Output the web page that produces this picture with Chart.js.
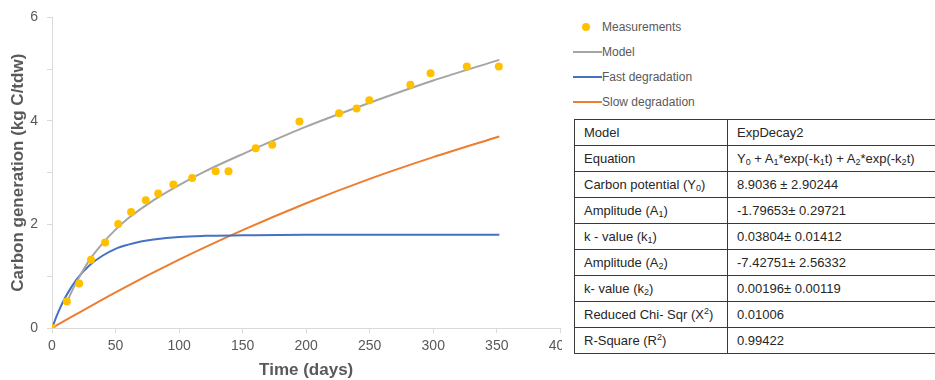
<!DOCTYPE html>
<html>
<head>
<meta charset="utf-8">
<script src="https://cdn.jsdelivr.net/npm/chart.js@4/dist/chart.umd.min.js"></script>
<style>
html,body{margin:0;padding:0;width:935px;height:380px;overflow:hidden;background:#fff;font-family:"Liberation Sans",Arial,sans-serif;}
#wrap{position:absolute;left:0;top:0;width:562px;height:380px;overflow:hidden;}
#c{position:absolute;left:0;top:0;}
#legend{position:absolute;left:0;top:0;}
.li{position:absolute;height:16px;line-height:16px;white-space:nowrap;font-size:12px;color:#595959;}
.sw{position:absolute;}
table{position:absolute;left:574px;top:119px;border-collapse:collapse;width:380px;font-size:13px;color:#262626;table-layout:fixed;}
td{border:1.5px solid #3a3a3a;padding:0 0 0 9px;height:25px;white-space:nowrap;}
td.k{width:143px;}
sub,sup{font-size:9px;line-height:0;}
sub{vertical-align:-2px;}
sup{vertical-align:5px;}
</style>
</head>
<body>
<div id="wrap"><canvas id="c" width="577" height="380"></canvas></div>
<div id="legend"></div>
<table id="tbl"></table>
<script>
// ---- data ----
const measDays   = [0, 11.7, 21.4, 30.7, 41.8, 52.1, 62.2, 73.8, 83.6, 95.5, 110.3, 128.8, 138.9, 160.3, 173.3, 194.7, 225.9, 239.7, 249.7, 282, 297.9, 326.4, 351.6];
const measValues = [0, 0.51, 0.86, 1.32, 1.65, 2.01, 2.24, 2.47, 2.60, 2.77, 2.90, 3.03, 3.03, 3.47, 3.54, 3.99, 4.15, 4.24, 4.40, 4.70, 4.92, 5.05, 5.05];

const modelDays   = [11, 15, 20, 30, 40, 50, 60, 70, 80, 100, 120, 150, 200, 250, 300, 352];
const modelValues = [0.45, 0.68, 0.92, 1.33, 1.64, 1.90, 2.12, 2.30, 2.47, 2.76, 3.02, 3.36, 3.89, 4.35, 4.78, 5.18];

const fastDays   = [0, 5, 10, 15, 20, 30, 40, 50, 60, 70, 80, 100, 120, 150, 200, 250, 300, 352];
const fastValues = [0, 0.31, 0.57, 0.78, 0.96, 1.22, 1.40, 1.53, 1.61, 1.67, 1.71, 1.76, 1.78, 1.79, 1.80, 1.80, 1.80, 1.80];

const slowDays   = [0, 50, 100, 150, 200, 250, 300, 352];
const slowValues = [0, 0.69, 1.32, 1.89, 2.41, 2.88, 3.30, 3.70];

const xTicks = [0, 50, 100, 150, 200, 250, 300, 350, 400];
const yTickLabels = [0, 2, 4, 6];

const seriesNames = ["Measurements", "Model", "Fast degradation", "Slow degradation"];

const tableKeys = ["Model", "Equation", "Carbon potential (Y<sub>0</sub>)", "Amplitude (A<sub>1</sub>)", "k - value (k<sub>1</sub>)", "Amplitude (A<sub>2</sub>)", "k- value (k<sub>2</sub>)", "Reduced Chi- Sqr (X<sup>2</sup>)", "R-Square (R<sup>2</sup>)"];
const tableValues = ["ExpDecay2", "Y<sub>0</sub> + A<sub>1</sub>*exp(-k<sub>1</sub>t) + A<sub>2</sub>*exp(-k<sub>2</sub>t)", "8.9036 ± 2.90244", "-1.79653± 0.29721", "0.03804± 0.01412", "-7.42751± 2.56332", "0.00196± 0.00119", "0.01006", "0.99422"];

// ---- build ----
const toXY = (xs, ys) => xs.map((x, i) => ({x: x, y: ys[i]}));
const GREY = '#595959';
const colors = ['#ffc000', '#a5a5a5', '#4472c4', '#ed7d31'];

const datasets = [
  {label: seriesNames[0], data: toXY(measDays, measValues), showLine: false, pointRadius: 4, pointHoverRadius: 4,
   backgroundColor: colors[0], borderColor: colors[0], pointBorderWidth: 0, order: 0},
  {label: seriesNames[1], data: toXY(modelDays, modelValues), showLine: true, pointRadius: 0, borderWidth: 2,
   borderColor: colors[1], cubicInterpolationMode: 'monotone', order: 1},
  {label: seriesNames[2], data: toXY(fastDays, fastValues), showLine: true, pointRadius: 0, borderWidth: 2,
   borderColor: colors[2], cubicInterpolationMode: 'monotone', order: 2},
  {label: seriesNames[3], data: toXY(slowDays, slowValues), showLine: true, pointRadius: 0, borderWidth: 2,
   borderColor: colors[3], cubicInterpolationMode: 'monotone', order: 3}
];

new Chart(document.getElementById('c'), {
  type: 'scatter',
  data: {datasets: datasets},
  options: {
    responsive: false,
    animation: false,
    layout: {padding: {top: 16, right: 0, left: 0, bottom: 0}},
    plugins: {legend: {display: false}, tooltip: {enabled: false}},
    scales: {
      x: {
        type: 'linear', min: xTicks[0], max: xTicks[xTicks.length - 1],
        afterBuildTicks: s => { s.ticks = xTicks.map(v => ({value: v})); },
        afterFit: s => { s.height = 52; },
        ticks: {color: GREY, font: {family: 'Liberation Sans', size: 14}, padding: 5, maxRotation: 0},
        grid: {drawOnChartArea: false, drawTicks: true, tickLength: 5, color: '#d9d9d9'},
        border: {color: '#d9d9d9'},
        title: {display: true, text: 'Time (days)', color: GREY, font: {family: 'Liberation Sans', size: 17, weight: 'bold'}, padding: {top: 0, bottom: -1}}
      },
      y: {
        type: 'linear', min: 0, max: 6,
        ticks: {stepSize: 1, color: GREY, font: {family: 'Liberation Sans', size: 14}, padding: 9,
                callback: v => yTickLabels.includes(v) ? String(v) : ''},
        afterFit: s => { s.width = 52; },
        grid: {drawOnChartArea: false, drawTicks: true, tickLength: 5, color: '#d9d9d9'},
        border: {color: '#d9d9d9'},
        title: {display: true, text: 'Carbon generation (kg C/tdw)', color: GREY, font: {family: 'Liberation Sans', size: 17, weight: 'bold'}, padding: {top: 8, bottom: 0}}
      }
    }
  }
});

// legend
const lg = document.getElementById('legend');
const legendTops = [27, 52, 77, 102];
seriesNames.forEach((name, i) => {
  const cy = legendTops[i];
  const sw = document.createElement('div');
  sw.className = 'sw';
  if (i === 0) {
    sw.style.cssText = `left:582px;top:${cy - 4}px;width:8px;height:8px;border-radius:50%;background:${colors[i]};`;
  } else {
    sw.style.cssText = `left:573px;top:${cy - 1}px;width:29px;height:2px;background:${colors[i]};`;
  }
  lg.appendChild(sw);
  const t = document.createElement('div');
  t.className = 'li';
  t.style.left = '602px';
  t.style.top = (cy - 8) + 'px';
  t.textContent = name;
  lg.appendChild(t);
});

// table
const tbl = document.getElementById('tbl');
tableKeys.forEach((k, i) => {
  const tr = document.createElement('tr');
  tr.innerHTML = `<td class="k">${k}</td><td>${tableValues[i]}</td>`;
  tbl.appendChild(tr);
});
</script>
</body>
</html>
